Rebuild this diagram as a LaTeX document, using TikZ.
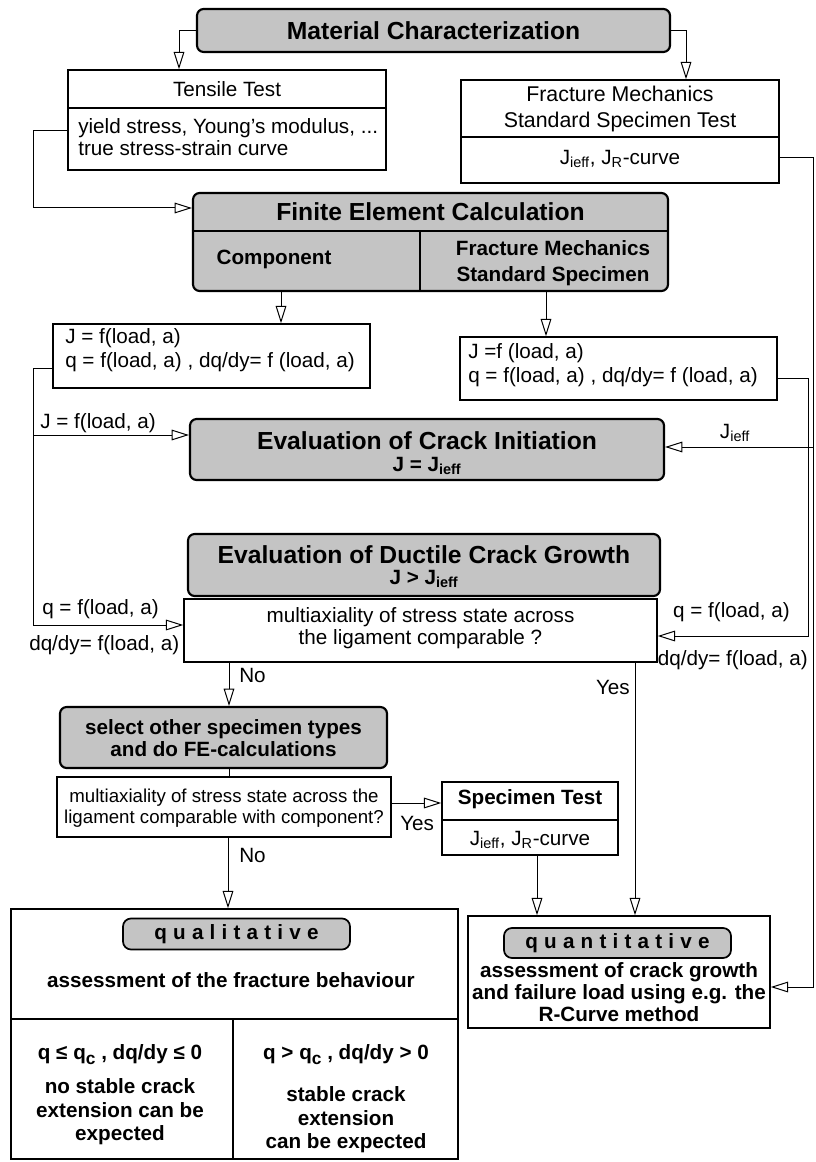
\documentclass[tikz,border=0pt]{standalone}
\usepackage{fontspec}
\setmainfont{Liberation Sans}
\usetikzlibrary{arrows.meta, positioning}

\definecolor{halftone}{gray}{0.77}
\newcommand\bodyfont{\fontsize{15.5}{17}\selectfont}
\newcommand\smallbody{\fontsize{14}{15.5}\selectfont}
\newcommand\boldfont{\fontsize{15.5}{17}\selectfont\bfseries}
\newcommand\headfont{\fontsize{18.5}{21}\selectfont\bfseries}
\newcommand\pillfont{\fontsize{15.5}{17}\selectfont\bfseries\addfontfeature{LetterSpace=30}}
\newcommand\qsub{\raisebox{-0.45ex}{\fontsize{13}{13}\selectfont c}}

\tikzset{
    graybox/.style={draw, fill=halftone, rounded corners=5pt, line width=1.6pt, inner sep=0pt},
    whitebox/.style={draw, fill=white, line width=1.1pt, inner sep=0pt},
    boxsize/.style 2 args={minimum width=#1*0.75pt, minimum height=#2*0.75pt},
    txt/.style={inner sep=0pt, font=\bodyfont},
    link/.style={line width=0.75pt},
    flow/.style={link, -{Triangle[open, length=13pt, width=8pt]}},
    divider/.style={line width=1pt}
}

\begin{document}
\begin{tikzpicture}[x=0.75pt, y=-0.75pt]
    \useasboundingbox (0,0) rectangle (815,1162);

    % Boxes
    \node[graybox, boxsize={473}{43}, font=\headfont] (mat) at (433.5,30.5) {Material Characterization};
    \node[whitebox, boxsize={318}{100}] (tens) at (227,120) {};
    \node[whitebox, boxsize={318}{103}] (fm) at (620,131.5) {};
    \node[graybox, boxsize={475}{98}] (fe) at (430.5,242) {};
    \node[whitebox, boxsize={317}{64}] (jl) at (211.5,356) {};
    \node[whitebox, boxsize={317}{63}] (jr) at (618.5,368.5) {};
    \node[graybox, boxsize={474}{61}] (ini) at (427,449.5) {};
    \node[graybox, boxsize={472}{62}] (duc) at (424,565) {};
    \node[whitebox, boxsize={473}{63}] (mul) at (420.5,630.5) {};
    \node[graybox, boxsize={327}{61}] (sel) at (223.5,737.5) {};
    \node[whitebox, boxsize={334}{60}] (mul2) at (224,807) {};
    \node[whitebox, boxsize={176}{73}] (spec) at (530,818.5) {};
    \node[whitebox, boxsize={447}{250}] (qual) at (234.5,1034) {};
    \node[whitebox, boxsize={302}{112}] (quant) at (619,972) {};
    \node[graybox, boxsize={227}{31}, rounded corners=6pt, line width=1.3pt, font=\pillfont] (qualP) at (236.5,934) {qualitative};
    \node[graybox, boxsize={227}{30}, rounded corners=6pt, line width=1.3pt, font=\pillfont] (quantP) at (617.5,943) {quantitative};

    % Dividers inside the boxes
    \draw[divider] (tens.west |- 0,108) -- (tens.east |- 0,108);
    \draw[divider] (fm.west |- 0,137) -- (fm.east |- 0,137);
    \draw[divider, line width=1.4pt] (fe.west |- 0,231) -- (fe.east |- 0,231);
    \draw[divider, line width=1.4pt] (420,231) -- (fe.south -| 420,0);
    \draw[divider] (spec.west |- 0,820) -- (spec.east |- 0,820);
    \draw[divider] (qual.west |- 0,1019) -- (qual.east |- 0,1019);
    \draw[divider] (233,1019) -- (qual.south -| 233,0);

    % Texts
    \node[txt] (tensT) at (227,89) {Tensile Test};
    \node[txt, anchor=west, align=left] (tensV) at (78,137) {yield stress, Young's modulus, ...\\true stress-strain curve};
    \node[txt, align=center, font=\fontsize{16}{19.5}\selectfont] (fmT) at (620,109) {Fracture Mechanics\\Standard Specimen Test};
    \node[txt] (fmV) at (620,159) {J\textsubscript{ieff}, J\textsubscript{R}-curve};
    \node[txt, font=\headfont] (feT) at (430.5,212) {Finite Element Calculation};
    \node[txt, font=\boldfont] (feL) at (274,259) {Component};
    \node[txt, align=center, font=\fontsize{15.5}{19.5}\selectfont\bfseries] (feR) at (553,263) {Fracture Mechanics\\Standard Specimen};
    \node[txt, anchor=west, align=left, font=\fontsize{15.5}{18}\selectfont] (jlT) at (65,350) {J = f(load, a)\\q = f(load, a) , dq/dy= f (load, a)};
    \node[txt, anchor=west, align=left, font=\fontsize{15.5}{18.5}\selectfont] (jrT) at (468,365) {J =f (load, a)\\q = f(load, a) , dq/dy= f (load, a)};
    \node[txt, font=\headfont] (iniT) at (427,441) {Evaluation of Crack Initiation};
    \node[txt, font=\boldfont] (iniS) at (427,466) {J = J\textsubscript{ieff}};
    \node[txt, font=\headfont] (ducT) at (424,555) {Evaluation of Ductile Crack Growth};
    \node[txt, font=\boldfont] (ducS) at (424,579) {J > J\textsubscript{ieff}};
    \node[txt, align=center] (mulT) at (420.5,628) {multiaxiality of stress state across\\the ligament comparable ?};
    \node[txt, align=center, font=\boldfont] (selT) at (223.5,738) {select other specimen types\\and do FE-calculations};
    \node[txt, align=center, font=\smallbody] (mul2T) at (224,808) {multiaxiality of stress state across the\\ligament comparable with component?};
    \node[txt, font=\boldfont] (specT) at (530,799) {Specimen Test};
    \node[txt] (specV) at (530,840) {J\textsubscript{ieff}, J\textsubscript{R}-curve};
    \node[txt, font=\boldfont] (qualA) at (231,980) {assessment of the fracture behaviour};
    \node[txt, font=\boldfont] (qualL1) at (120,1055) {q ≤ q\qsub\ , dq/dy ≤ 0};
    \node[txt, align=center, font=\fontsize{15.5}{17.6}\selectfont\bfseries] (qualL2) at (120,1112) {no stable crack\\extension can be\\expected};
    \node[txt, font=\boldfont] (qualR1) at (346,1055) {q > q\qsub\ , dq/dy > 0};
    \node[txt, align=center, font=\fontsize{15.5}{17.6}\selectfont\bfseries] (qualR2) at (346,1120) {stable crack\\extension\\can be expected};
    \node[txt, align=center, font=\fontsize{15.5}{16.5}\selectfont\bfseries] (quantA) at (619,992) {assessment of crack growth\\and failure load using e.g. the\\R-Curve method};

    % Connectors
    \draw[flow] (mat.west) -| (tens.north -| 179,0);
    \draw[flow] (mat.east) -| (fm.north -| 686,0);
    \draw[flow] (tens.west |- 0,131) -| (33,208) -- (fe.west |- 0,208);
    \draw[flow] (fe.south -| 281,0) -- (jl.north -| 281,0);
    \draw[flow] (fe.south -| 546,0) -- (jr.north -| 546,0);

    % Left line of J and q
    \draw[flow] (jl.west |- 0,368) -| (33,625) -- (mul.west |- 0,625);
    \draw[flow] (33,435) -- (ini.west |- 0,435);

    % Right lines
    \draw[flow] (jr.east |- 0,378) -| (808,636) -- (mul.east |- 0,636);
    \draw[flow] (fm.east |- 0,158) -| (813,987) -- (quant.east |- 0,987);
    \draw[flow] (813,447) -- (ini.east |- 0,447);

    \draw[flow] (mul.south -| 229,0) -- (sel.north -| 229,0);
    \draw[flow] (mul.south -| 635,0) -- (quant.north -| 635,0);
    \draw[link] (sel.south -| 229,0) -- (mul2.north -| 229,0);
    \draw[flow] (mul2.east |- 0,803) -- (spec.west |- 0,803);
    \draw[flow] (mul2.south -| 228,0) -- (qual.north -| 228,0);
    \draw[flow] (spec.south -| 537,0) -- (quant.north -| 537,0);

    % Labels on the lines
    \node[txt, anchor=west] (lJ) at (40,423) {J = f(load, a)};
    \node[txt, anchor=west] (lq) at (42,609) {q = f(load, a)};
    \node[txt, anchor=west] (ldq) at (29,645) {dq/dy= f(load, a)};
    \node[txt] (rJ) at (735,433) {J\textsubscript{ieff}};
    \node[txt, anchor=east] (rq) at (790,612) {q = f(load, a)};
    \node[txt, anchor=east] (rdq) at (808,660) {dq/dy= f(load, a)};
    \node[txt, anchor=west] (no1) at (239,675) {No};
    \node[txt, anchor=east] (yes1) at (630,687) {Yes};
    \node[txt, anchor=west] (yes2) at (400,823) {Yes};
    \node[txt, anchor=west] (no2) at (239,855) {No};
\end{tikzpicture}
\end{document}
